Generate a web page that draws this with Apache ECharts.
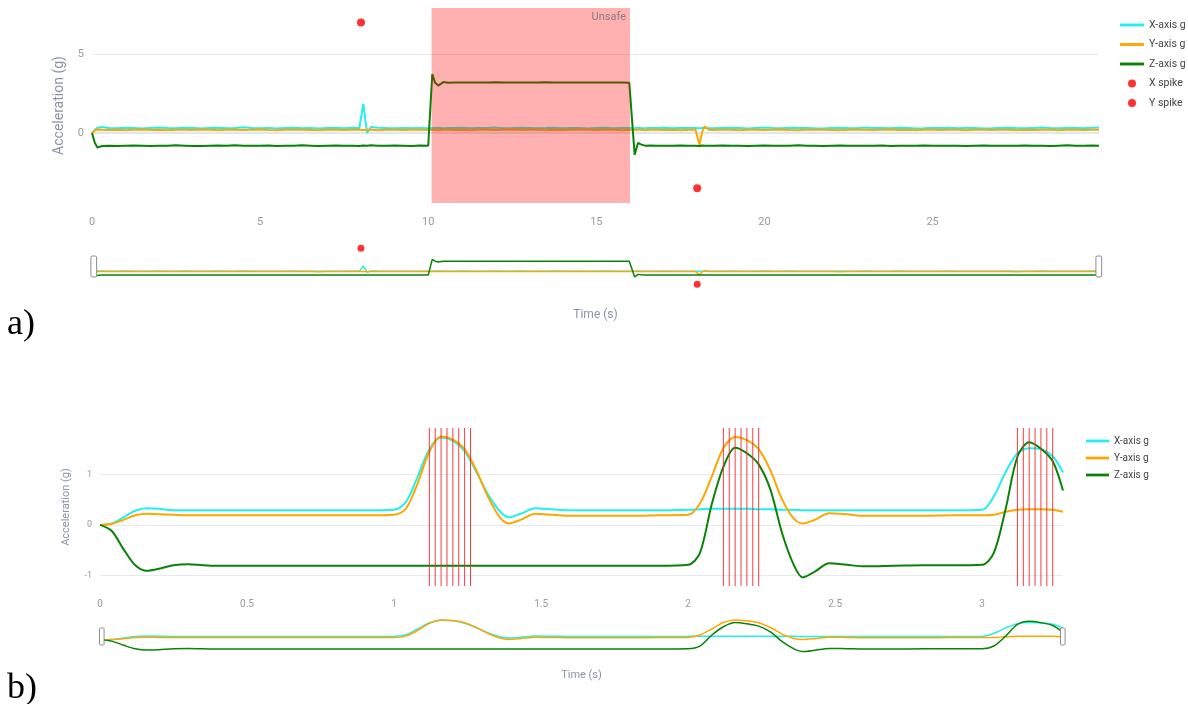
<!DOCTYPE html>
<html><head><meta charset="utf-8">
<script src="https://cdn.jsdelivr.net/npm/echarts@6/dist/echarts.min.js"></script>
<style>html,body{margin:0;padding:0;background:#fff}#c{width:1188px;height:704px}</style>
</head><body><div id="c"></div>
<script>
// ---------- Panel a) ----------
const TIME_A = [
  0, 0.08, 0.16, 0.3, 0.5, 0.75, 1, 1.25, 1.5, 1.75, 2, 2.25, 2.5, 2.75, 3, 3.25, 3.5, 3.75, 4, 4.25, 4.5, 4.75, 5, 5.25, 5.5, 5.75, 6, 6.25, 6.5, 6.75, 7, 7.25, 7.5, 7.75,
  7.95, 8.07, 8.18, 8.3,
  8.5, 8.75, 9, 9.25, 9.5, 9.75,
  10, 10.12, 10.2, 10.3, 10.45, 10.6, 10.8,
  11, 11.25, 11.5, 11.75, 12, 12.25, 12.5, 12.75, 13, 13.25, 13.5, 13.75, 14, 14.25, 14.5, 14.75, 15, 15.25, 15.5, 15.75,
  15.98, 16.14, 16.24, 16.32, 16.45, 16.6, 16.8,
  17, 17.25, 17.5, 17.75,
  17.95, 18.07, 18.15, 18.22, 18.35,
  18.5, 18.75, 19, 19.25, 19.5, 19.75, 20, 20.25, 20.5, 20.75, 21, 21.25, 21.5, 21.75, 22, 22.25, 22.5, 22.75, 23, 23.25, 23.5, 23.75, 24, 24.25, 24.5, 24.75, 25, 25.25, 25.5, 25.75, 26, 26.25, 26.5, 26.75, 27, 27.25, 27.5, 27.75, 28, 28.25, 28.5, 28.75, 29, 29.25, 29.5, 29.75,
  29.95
];
const X_A = [
  0, 0.20, 0.33, 0.38, 0.32, 0.30, 0.33, 0.31, 0.29, 0.32, 0.34, 0.31, 0.30, 0.33, 0.32, 0.29, 0.31, 0.33, 0.30, 0.32, 0.36, 0.31, 0.30, 0.32, 0.29, 0.31, 0.33, 0.30, 0.32, 0.29, 0.31, 0.32, 0.30, 0.33,
  0.30, 1.85, 0.0, 0.38,
  0.33, 0.31, 0.30, 0.32, 0.30, 0.31,
  0.30, 0.32, 0.31, 0.33, 0.30, 0.32, 0.31,
  0.33, 0.30, 0.32, 0.31, 0.34, 0.30, 0.31, 0.33, 0.32, 0.30, 0.31, 0.33, 0.30, 0.32, 0.31, 0.29, 0.32, 0.33, 0.30, 0.31,
  0.32, 0.30, 0.33, 0.31, 0.30, 0.32, 0.31,
  0.33, 0.30, 0.31, 0.32,
  0.31, 0.30, 0.32, 0.33, 0.31,
  0.30, 0.32, 0.33, 0.31, 0.29, 0.32, 0.34, 0.31, 0.30, 0.33, 0.31, 0.32, 0.30, 0.29, 0.32, 0.33, 0.31, 0.30, 0.34, 0.32, 0.31, 0.30, 0.33, 0.31, 0.29, 0.30, 0.32, 0.31, 0.33, 0.30, 0.32, 0.31, 0.29, 0.30, 0.32, 0.33, 0.31, 0.30, 0.32, 0.34, 0.31, 0.30, 0.32, 0.31, 0.30, 0.33,
  0.34
];
const Y_A = [
  0, 0.15, 0.22, 0.20, 0.19, 0.21, 0.18, 0.20, 0.22, 0.19, 0.20, 0.18, 0.21, 0.20, 0.19, 0.22, 0.20, 0.18, 0.20, 0.21, 0.19, 0.20, 0.22, 0.19, 0.18, 0.20, 0.21, 0.20, 0.19, 0.17, 0.20, 0.21, 0.19, 0.20,
  0.20, 0.19, 0.21, 0.20,
  0.18, 0.20, 0.21, 0.19, 0.20, 0.20,
  0.19, 0.21, 0.20, 0.18, 0.20, 0.21, 0.19,
  0.20, 0.18, 0.21, 0.20, 0.19, 0.20, 0.22, 0.19, 0.20, 0.21, 0.18, 0.20, 0.19, 0.21, 0.20, 0.20, 0.19, 0.21, 0.20, 0.18,
  0.20, 0.19, 0.21, 0.20, 0.18, 0.20, 0.21,
  0.19, 0.20, 0.18, 0.20,
  0.20, -0.75, 0.10, 0.42, 0.20,
  0.19, 0.21, 0.20, 0.18, 0.20, 0.21, 0.19, 0.20, 0.22, 0.19, 0.18, 0.20, 0.21, 0.20, 0.19, 0.17, 0.20, 0.21, 0.20, 0.19, 0.20, 0.22, 0.19, 0.20, 0.18, 0.20, 0.21, 0.19, 0.20, 0.20, 0.18, 0.21, 0.20, 0.19, 0.20, 0.21, 0.17, 0.20, 0.19, 0.21, 0.20, 0.18, 0.20, 0.21, 0.19, 0.20,
  0.21
];
const Z_A = [
  0, -0.60, -0.92, -0.82, -0.80, -0.83, -0.81, -0.79, -0.80, -0.82, -0.80, -0.81, -0.78, -0.80, -0.82, -0.83, -0.80, -0.79, -0.81, -0.77, -0.80, -0.81, -0.80, -0.79, -0.82, -0.80, -0.81, -0.78, -0.80, -0.82, -0.80, -0.79, -0.81, -0.80,
  -0.82, -0.79, -0.80, -0.78,
  -0.81, -0.80, -0.79, -0.80, -0.82, -0.79,
  -0.80, 3.73, 3.20, 3.00, 3.22, 3.18, 3.20,
  3.20, 3.19, 3.20, 3.20, 3.21, 3.20, 3.19, 3.20, 3.20, 3.20, 3.21, 3.20, 3.19, 3.20, 3.20, 3.20, 3.19, 3.20, 3.20, 3.20,
  3.18, -1.38, -0.62, -0.72, -0.80, -0.79, -0.81,
  -0.80, -0.81, -0.79, -0.80,
  -0.80, -0.82, -0.79, -0.80, -0.81,
  -0.80, -0.79, -0.81, -0.80, -0.82, -0.80, -0.79, -0.80, -0.81, -0.80, -0.78, -0.80, -0.81, -0.82, -0.80, -0.79, -0.80, -0.81, -0.80, -0.80, -0.79, -0.82, -0.80, -0.81, -0.80, -0.79, -0.80, -0.80, -0.81, -0.80, -0.83, -0.80, -0.79, -0.80, -0.81, -0.80, -0.80, -0.79, -0.81, -0.80, -0.82, -0.80, -0.78, -0.80, -0.81, -0.79,
  -0.80
];
const X_SPIKE = [[8, 7]];
const Y_SPIKE = [[18, -3.5]];
const UNSAFE = [10.1, 16];
const TICKS_A_X = [0, 5, 10, 15, 20, 25];
const TICKS_A_Y = [0, 5];

// ---------- Panel b) ----------
const TIME_B = [
  0, 0.04, 0.08, 0.12, 0.16, 0.2, 0.25, 0.3, 0.35, 0.4,
  0.5, 0.6, 0.7, 0.8, 0.9, 1.0,
  1.04, 1.08, 1.12, 1.16, 1.2, 1.24, 1.28, 1.32, 1.36,
  1.39, 1.43, 1.48, 1.54, 1.6,
  1.7, 1.8, 1.9, 2.0,
  2.04, 2.08, 2.12, 2.16, 2.2, 2.24, 2.28, 2.32, 2.36,
  2.39, 2.43, 2.48, 2.54, 2.6,
  2.7, 2.8, 2.9, 3.0,
  3.04, 3.08, 3.12, 3.16, 3.2, 3.24,
  3.275
];
const X_B = [
  0, 0.03, 0.15, 0.28, 0.33, 0.32, 0.29, 0.29, 0.29, 0.29,
  0.29, 0.29, 0.29, 0.29, 0.29, 0.30,
  0.45, 0.95, 1.50, 1.73, 1.67, 1.46, 1.05, 0.60, 0.27,
  0.15, 0.22, 0.33, 0.31, 0.29,
  0.29, 0.29, 0.29, 0.30,
  0.31, 0.32, 0.32, 0.32, 0.32, 0.31, 0.31, 0.30, 0.30,
  0.29, 0.29, 0.29, 0.29, 0.29,
  0.29, 0.29, 0.29, 0.30,
  0.57, 1.05, 1.42, 1.52, 1.50, 1.36,
  1.04
];
const Y_B = [
  0, 0.02, 0.10, 0.19, 0.22, 0.21, 0.20, 0.19, 0.19, 0.19,
  0.19, 0.19, 0.19, 0.19, 0.19, 0.20,
  0.32, 0.82, 1.45, 1.75, 1.69, 1.50, 1.08, 0.55, 0.15,
  0.03, 0.10, 0.22, 0.20, 0.18,
  0.18, 0.18, 0.19, 0.20,
  0.42, 0.95, 1.52, 1.74, 1.68, 1.50, 1.08, 0.50, 0.12,
  0.03, 0.10, 0.23, 0.21, 0.18,
  0.18, 0.18, 0.19, 0.19,
  0.20, 0.26, 0.30, 0.31, 0.31, 0.30,
  0.26
];
const Z_B = [
  0, -0.12, -0.48, -0.80, -0.91, -0.87, -0.80, -0.78, -0.80, -0.81,
  -0.81, -0.81, -0.81, -0.81, -0.81, -0.81,
  -0.81, -0.81, -0.81, -0.81, -0.81, -0.81, -0.81, -0.81, -0.81,
  -0.81, -0.81, -0.81, -0.81, -0.81,
  -0.81, -0.81, -0.81, -0.79,
  -0.56, 0.40, 1.15, 1.53, 1.42, 1.20, 0.70, -0.17, -0.80,
  -1.04, -0.93, -0.76, -0.79, -0.82,
  -0.81, -0.80, -0.80, -0.79,
  -0.55, 0.32, 1.35, 1.64, 1.51, 1.26,
  0.68
];
const MARKS_B = [1.12, 1.14, 1.16, 1.18, 1.2, 1.22, 1.24, 1.26,
                 2.12, 2.14, 2.16, 2.18, 2.2, 2.22, 2.24,
                 3.12, 3.14, 3.16, 3.18, 3.2, 3.22, 3.24];
const TICKS_B_X = [0, 0.5, 1, 1.5, 2, 2.5, 3];
const TICKS_B_Y = [-1, 0, 1];

const SERIES_NAMES = ['X-axis g', 'Y-axis g', 'Z-axis g', 'X spike', 'Y spike'];

// ---------- build ----------
function pairs(t, v) {
  if (t.length !== v.length) throw new Error('length mismatch ' + t.length + ' vs ' + v.length);
  return t.map((x, i) => [x, v[i]]);
}
const C_X = '#22f0f0', C_Y = '#ffa500', C_Z = '#0a820a', C_R = '#ff0000', C_ML = '#ec2a30';
const FONT = "Roboto, 'Open Sans', sans-serif";
const TICK_C = '#9a9a9a', TITLE_C = '#8b93a6', GRID_C = '#e8e9ee';

const A_MIN = -4.43, A_MAX = 7.91, A_XMAX = 29.95;
const B_MIN = -1.21, B_MAX = 1.92, B_XMAX = 3.275;

function mainX(grid, max, ticks, name, gap, fs) {
  return { type: 'value', gridIndex: grid, min: 0, max: max,
    axisLine: { show: false }, splitLine: { show: false },
    axisTick: { show: false, customValues: ticks },
    axisLabel: { customValues: ticks, color: TICK_C, fontSize: fs, fontFamily: FONT, margin: fs + 3 },
    name: name, nameLocation: 'middle', nameGap: gap,
    nameTextStyle: { color: TITLE_C, fontSize: fs + 1, fontFamily: FONT } };
}
function mainY(grid, min, max, ticks, gap, fs, nfs) {
  return { type: 'value', gridIndex: grid, min: min, max: max,
    axisLine: { show: false },
    axisTick: { show: false, customValues: ticks },
    axisLabel: { customValues: ticks, color: TICK_C, fontSize: fs, fontFamily: FONT, margin: 8 },
    splitLine: { show: true, lineStyle: { color: GRID_C, width: 1 } },
    name: 'Acceleration (g)', nameLocation: 'middle', nameGap: gap,
    nameTextStyle: { color: TITLE_C, fontSize: nfs, fontFamily: FONT } };
}
function zeroY(grid, min, max) {
  return { type: 'value', gridIndex: grid, min: min, max: max, position: 'left',
    axisLine: { show: false }, axisLabel: { show: false },
    axisTick: { show: false, customValues: [0] },
    splitLine: { show: true, lineStyle: { color: '#e4e6ea', width: 2 } } };
}
function hiddenAxis(grid, min, max) {
  return { type: 'value', gridIndex: grid, min: min, max: max, show: false,
    splitLine: { show: false } };
}
function lineS(name, t, v, xi, yi, color, width, smooth) {
  return { name: name, type: 'line', xAxisIndex: xi, yAxisIndex: yi,
    data: pairs(t, v), symbol: 'none', showSymbol: false, smooth: smooth || false,
    lineStyle: { color: color, width: width }, itemStyle: { color: color },
    silent: true, animation: false, z: 3 };
}
function dotS(name, d, xi, yi, size) {
  return { name: name, type: 'scatter', xAxisIndex: xi, yAxisIndex: yi,
    data: d, symbol: 'circle', symbolSize: size, itemStyle: { color: C_R },
    silent: true, animation: false, z: 4 };
}

const series = [];
// a) main
series.push(lineS(SERIES_NAMES[0], TIME_A, X_A, 0, 0, C_X, 2));
series.push(lineS(SERIES_NAMES[1], TIME_A, Y_A, 0, 0, C_Y, 2));
series.push(lineS(SERIES_NAMES[2], TIME_A, Z_A, 0, 0, C_Z, 2));
series.push(dotS(SERIES_NAMES[3], X_SPIKE, 0, 0, 8));
series.push(dotS(SERIES_NAMES[4], Y_SPIKE, 0, 0, 8));
// unsafe zone (drawn above the traces, like the reference)
series.push({ name: 'unsafe-zone', type: 'line', xAxisIndex: 0, yAxisIndex: 0, data: [], silent: true, z: 6,
  itemStyle: { color: 'rgba(255,0,0,0.31)' },
  markArea: { z: 10, silent: true,
    itemStyle: { color: 'rgba(255,0,0,0.31)', opacity: 1 },
    label: { show: true, position: 'insideTopRight', distance: 4, formatter: 'Unsafe',
             color: '#8c7d83', fontSize: 11, fontFamily: FONT },
    data: [[{ name: 'Unsafe', xAxis: UNSAFE[0] }, { xAxis: UNSAFE[1] }]] } });
// a) mini (range slider preview)
series.push(lineS(SERIES_NAMES[0], TIME_A, X_A, 1, 1, C_X, 1.5));
series.push(lineS(SERIES_NAMES[1], TIME_A, Y_A, 1, 1, C_Y, 1.5));
series.push(lineS(SERIES_NAMES[2], TIME_A, Z_A, 1, 1, C_Z, 1.5));
series.push(dotS(SERIES_NAMES[3], X_SPIKE, 1, 1, 7));
series.push(dotS(SERIES_NAMES[4], Y_SPIKE, 1, 1, 7));
// b) main
series.push(lineS(SERIES_NAMES[0], TIME_B, X_B, 2, 2, C_X, 2, 0.3));
series.push(lineS(SERIES_NAMES[1], TIME_B, Y_B, 2, 2, C_Y, 2, 0.3));
series.push(lineS(SERIES_NAMES[2], TIME_B, Z_B, 2, 2, C_Z, 2, 0.3));
// vertical red event lines, spanning the full y-range of the plot
series.push({ name: 'marks', type: 'custom', xAxisIndex: 2, yAxisIndex: 2, silent: true, z: 5,
  data: MARKS_B.map(v => [v, 0]), encode: { x: 0, y: 1 },
  renderItem: function (params, api) {
    const x = api.value(0);
    const p1 = api.coord([x, B_MIN]);
    const p2 = api.coord([x, B_MAX]);
    return { type: 'line',
      shape: { x1: p1[0], y1: p1[1], x2: p2[0], y2: p2[1] },
      style: { stroke: C_ML, lineWidth: 1, opacity: 0.9 } };
  } });
// b) mini
series.push(lineS(SERIES_NAMES[0], TIME_B, X_B, 3, 3, C_X, 1.5, 0.3));
series.push(lineS(SERIES_NAMES[1], TIME_B, Y_B, 3, 3, C_Y, 1.5, 0.3));
series.push(lineS(SERIES_NAMES[2], TIME_B, Z_B, 3, 3, C_Z, 1.5, 0.3));

const handlePath = 'path://M1,0 L5,0 L6,1 L6,21 L5,22 L1,22 L0,21 L0,1 Z';
function slider(xi, left, right, top, height) {
  return { type: 'slider', xAxisIndex: xi, start: 0, end: 100, left: left, right: right, top: top, height: height,
    showDetail: false, showDataShadow: false, brushSelect: false, moveHandleSize: 0,
    backgroundColor: 'transparent', borderColor: 'transparent', fillerColor: 'transparent',
    handleIcon: handlePath, handleSize: '100%',
    handleStyle: { color: '#ffffff', borderColor: '#8c8c8c', borderWidth: 1 },
    emphasis: { handleStyle: { borderColor: '#8c8c8c' } },
    dataBackground: { lineStyle: { opacity: 0 }, areaStyle: { opacity: 0 } },
    selectedDataBackground: { lineStyle: { opacity: 0 }, areaStyle: { opacity: 0 } } };
}
const LINE_ICON = 'path://M0,0 L25,0 L25,3 L0,3 Z';
function legendData(names) {
  return names.map(n => (n.indexOf('spike') >= 0 ? { name: n, icon: 'circle' } : { name: n, icon: LINE_ICON }));
}

const option = {
  backgroundColor: '#ffffff',
  animation: false,
  textStyle: { fontFamily: FONT },
  grid: [
    { left: 92, right: 89, top: 8, height: 195, outerBoundsMode: 'none' },
    { left: 92, right: 89, top: 245, height: 42.5, outerBoundsMode: 'none' },
    { left: 100, right: 125, top: 428, height: 158, outerBoundsMode: 'none' },
    { left: 100, right: 125, top: 618, height: 35.5, outerBoundsMode: 'none' }
  ],
  xAxis: [
    mainX(0, A_XMAX, TICKS_A_X, 'Time (s)', 106, 11),
    hiddenAxis(1, 0, A_XMAX),
    mainX(2, B_XMAX, TICKS_B_X, 'Time (s)', 84, 10),
    hiddenAxis(3, 0, B_XMAX)
  ],
  yAxis: [
    mainY(0, A_MIN, A_MAX, TICKS_A_Y, 24, 11, 14),
    hiddenAxis(1, A_MIN, A_MAX),
    mainY(2, B_MIN, B_MAX, TICKS_B_Y, 28, 9, 11),
    hiddenAxis(3, B_MIN, B_MAX),
    zeroY(0, A_MIN, A_MAX)
  ],
  dataZoom: [ slider(0, 92, 89, 256, 21), slider(2, 100, 125, 628, 17) ],
  legend: [
    { orient: 'vertical', left: 1120, top: 19.5, padding: 0, itemWidth: 24, itemHeight: 8, itemGap: 8.5,
      textStyle: { color: '#444', fontSize: 10.5, fontFamily: FONT },
      data: legendData(SERIES_NAMES) },
    { orient: 'vertical', left: 1086, top: 436, padding: 0, itemWidth: 23, itemHeight: 8, itemGap: 7,
      textStyle: { color: '#444', fontSize: 10, fontFamily: FONT },
      data: legendData(SERIES_NAMES.slice(0, 3)) }
  ],
  graphic: [
    { type: 'text', left: 7, top: 307, style: { text: 'a)', font: "36px 'Liberation Serif', serif", fill: '#000' } },
    { type: 'text', left: 7, top: 671, style: { text: 'b)', font: "36px 'Liberation Serif', serif", fill: '#000' } }
  ],
  series: series
};
const chart = echarts.init(document.getElementById('c'), null, { renderer: 'canvas' });
chart.setOption(option);
</script></body></html>
